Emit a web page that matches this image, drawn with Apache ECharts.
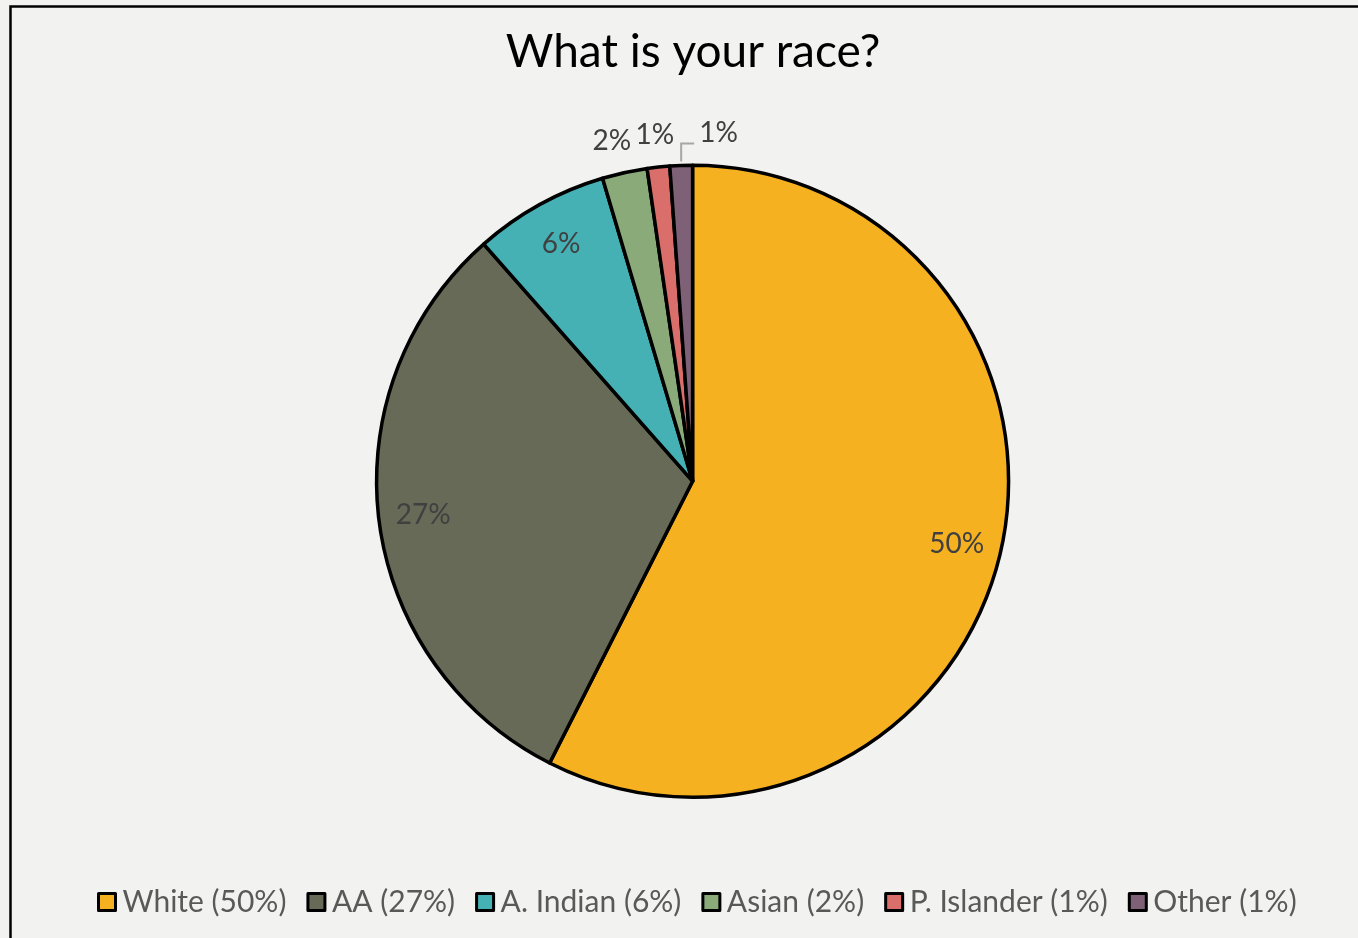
<!DOCTYPE html>
<html>
<head>
<meta charset="utf-8">
<script src="https://cdn.jsdelivr.net/npm/echarts@6/dist/echarts.min.js"></script>
<style>
  html, body { margin: 0; padding: 0; background: #f2f2f0; }
  #chart { width: 1358px; height: 938px; }
</style>
</head>
<body>
<div id="chart"></div>
<script>
// Données du graphique
const categories = ["White", "AA", "A. Indian", "Asian", "P. Islander", "Other"];
const values = [50, 27, 6, 2, 1, 1];
const colors = ["#f6b121", "#666a57", "#46b1b5", "#8baa7a", "#d96e6a", "#7f6177"];

// Étiquettes dans la part (près du bord) ou à l'extérieur
const insideLabels = ["White", "AA", "A. Indian"];
const outsideLabels = ["Asian", "P. Islander"];

const FONT = "Lato, 'Open Sans', sans-serif";
const CENTER = ["51%", "51.3%"];
const R = 316;

const chart = echarts.init(document.getElementById("chart"));

const mainData = categories.map((name, i) => ({
  name,
  value: values[i],
  itemStyle: { color: colors[i] },
  label: name === "Other" ? { show: true } : { show: false },
  labelLine: { show: name === "Other" },
}));

const ringData = (shown) =>
  categories.map((name, i) => ({
    name,
    value: values[i],
    label: {
      show: shown.includes(name),
      offset: name === "Asian" ? [-6, 0] : [0, 0],
    },
  }));

const labelText = {
  formatter: "{c}%",
  fontFamily: FONT,
  fontSize: 28,
  color: "#404040",
};

const option = {
  backgroundColor: "#f2f2f0",
  animation: false,
  title: {
    text: "What is your race?",
    left: 688,
    textAlign: "center",
    top: 24,
    textStyle: { fontFamily: FONT, fontSize: 46, fontWeight: "normal", color: "#000" },
  },
  legend: {
    bottom: 16,
    left: 92,
    icon: "rect",
    itemWidth: 17,
    itemHeight: 17,
    itemGap: 20,
    itemStyle: { borderColor: "#000", borderWidth: 3 },
    data: categories,
    formatter: (name) => `${name} (${values[categories.indexOf(name)]}%)`,
    textStyle: { fontFamily: FONT, fontSize: 30, color: "#595959", padding: [0, 0, 0, 2] },
  },
  graphic: [
    {
      type: "rect",
      left: 8,
      top: 4,
      shape: { width: 1400, height: 1000 },
      style: { fill: "none", stroke: "#000", lineWidth: 2.5 },
      silent: true,
    },
  ],
  series: [
    {
      name: "race",
      type: "pie",
      radius: R,
      center: CENTER,
      avoidLabelOverlap: false,
      itemStyle: { borderColor: "#000", borderWidth: 3.5 },
      label: Object.assign({ position: "outside" }, labelText),
      labelLine: {
        length: 10,
        length2: 0,
        lineStyle: { color: "#a6a6a6", width: 2 },
      },
      // Étiquette "Other" déplacée à droite avec une ligne de rappel coudée
      labelLayout: (params) => {
        if (params.dataIndex !== categories.indexOf("Other")) return;
        const p = params.labelLinePoints;
        if (!p) return;
        const x0 = p[0][0];
        const y0 = p[0][1];
        return {
          x: x0 + 18,
          y: y0 - 32,
          align: "left",
          verticalAlign: "middle",
          labelLinePoints: [
            [x0, y0 - 4],
            [x0, y0 - 22],
            [x0 + 13, y0 - 22],
          ],
        };
      },
      emphasis: { disabled: true },
      data: mainData,
    },
    {
      name: "labels-inner",
      type: "pie",
      radius: [R * 0.7, R],
      center: CENTER,
      silent: true,
      itemStyle: { color: "transparent", borderWidth: 0 },
      label: Object.assign({ position: "inside" }, labelText),
      labelLine: { show: false },
      data: ringData(insideLabels),
    },
    {
      name: "labels-outer",
      type: "pie",
      radius: [R + 6, R + 52],
      center: CENTER,
      silent: true,
      itemStyle: { color: "transparent", borderWidth: 0 },
      label: Object.assign({ position: "inside" }, labelText),
      labelLine: { show: false },
      data: ringData(outsideLabels),
    },
  ],
};

chart.setOption(option);
</script>
</body>
</html>
